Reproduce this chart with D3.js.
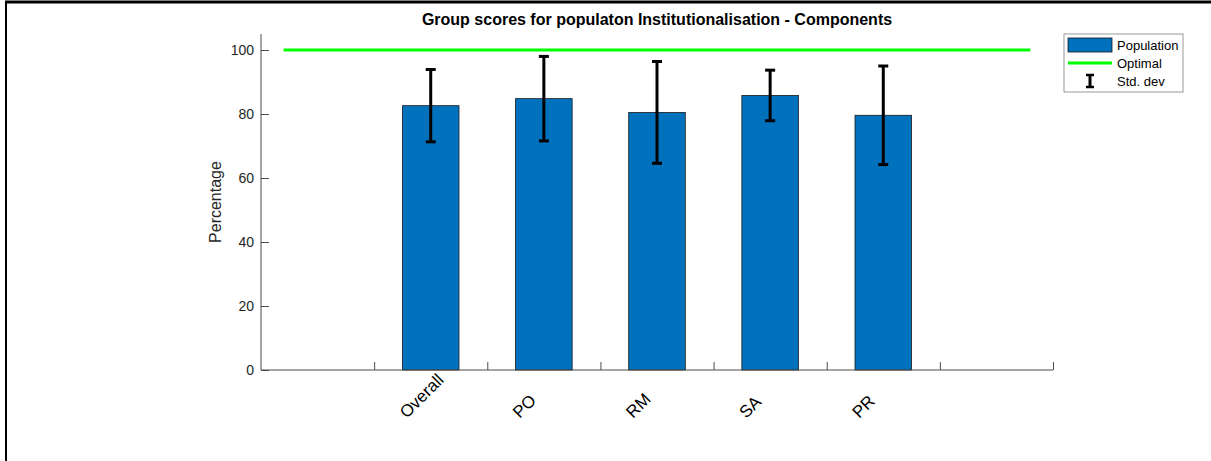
<!DOCTYPE html>
<html>
<head>
<meta charset="utf-8">
<script src="https://cdn.jsdelivr.net/npm/d3@7"></script>
<style>
  body { margin: 0; background: #fff; }
  svg { display: block; font-family: "Liberation Sans", Arial, sans-serif; }
</style>
</head>
<body>
<svg id="chart"></svg>
<script>
// values
const categories = ["Overall", "PO", "RM", "SA", "PR"];
const means = [82.6, 84.8, 80.5, 85.8, 79.6];
const stdDevs = [11.3, 13.2, 15.9, 7.9, 15.4];
const optimal = 100;
const yTicks = [0, 20, 40, 60, 80, 100];
const xTicks = [1, 2, 3, 4, 5, 6, 7];

const w = 1211;
const h = 461;
const axLeft = 261, axRight = 1053, axTop = 34, axBottom = 370;

const svg = d3.select("#chart").attr("width", w).attr("height", h);

// figure frame (top and left edges only visible)
svg.append("line").attr("x1", 5).attr("x2", w).attr("y1", 2).attr("y2", 2)
  .attr("stroke", "#000").attr("stroke-width", 3);
svg.append("line").attr("x1", 6).attr("x2", 6).attr("y1", 1).attr("y2", h)
  .attr("stroke", "#000").attr("stroke-width", 2);

const xScale = d3.scaleLinear().domain([0, 7]).range([axLeft, axRight]);
const yScale = d3.scaleLinear().domain([0, 105]).range([axBottom, axTop]);

// bars
svg.selectAll(".bar")
  .data(means)
  .join("rect")
  .attr("class", "bar")
  .attr("x", (d, i) => xScale(i + 1.25))
  .attr("width", xScale(0.5) - xScale(0))
  .attr("y", d => yScale(d))
  .attr("height", d => yScale(0) - yScale(d))
  .attr("fill", "#0072bd")
  .attr("stroke", "#1a1a1a")
  .attr("stroke-width", 0.8);

// optimal line
svg.append("line")
  .attr("x1", xScale(0.2)).attr("x2", xScale(6.8))
  .attr("y1", yScale(optimal)).attr("y2", yScale(optimal))
  .attr("stroke", "#00ff00").attr("stroke-width", 3);

// error bars
const err = svg.selectAll(".err").data(means).join("g").attr("class", "err");
err.append("line")
  .attr("x1", (d, i) => xScale(i + 1.5)).attr("x2", (d, i) => xScale(i + 1.5))
  .attr("y1", (d, i) => yScale(d + stdDevs[i])).attr("y2", (d, i) => yScale(d - stdDevs[i]))
  .attr("stroke", "#000").attr("stroke-width", 3);
[1, -1].forEach(s => {
  err.append("line")
    .attr("x1", (d, i) => xScale(i + 1.5) - 5).attr("x2", (d, i) => xScale(i + 1.5) + 5)
    .attr("y1", (d, i) => yScale(d + s * stdDevs[i])).attr("y2", (d, i) => yScale(d + s * stdDevs[i]))
    .attr("stroke", "#000").attr("stroke-width", 3);
});

// axes
const yAxis = d3.axisLeft(yScale).tickValues(yTicks).tickSize(-8).tickPadding(7);
const gy = svg.append("g").attr("transform", "translate(" + axLeft + ",0)").call(yAxis);
gy.select(".domain").attr("d", "M0," + axTop + "V" + axBottom).attr("stroke", "#4d4d4d");
gy.selectAll(".tick line").attr("stroke", "#4d4d4d");
gy.selectAll(".tick text").attr("font-size", 14).attr("fill", "#262626").attr("x", -7);

const xAxis = d3.axisBottom(xScale).tickValues(xTicks).tickSize(-8).tickFormat("");
const gx = svg.append("g").attr("transform", "translate(0," + axBottom + ")").call(xAxis);
gx.select(".domain").attr("d", "M" + axLeft + ",0H" + axRight).attr("stroke", "#4d4d4d");
gx.selectAll(".tick line").attr("stroke", "#4d4d4d");

// category labels (start-anchored, rising to the right)
svg.selectAll(".xlab")
  .data(categories)
  .join("text")
  .attr("class", "xlab")
  .attr("transform", (d, i) => "translate(" + (xScale(i + 1.5) - 24) + "," + (axBottom + 49) + ") rotate(-45)")
  .attr("text-anchor", "start")
  .attr("font-size", 17)
  .attr("fill", "#000")
  .text(d => d);

// y label
svg.append("text")
  .attr("transform", "translate(221," + ((axTop + axBottom) / 2) + ") rotate(-90)")
  .attr("text-anchor", "middle")
  .attr("font-size", 16)
  .attr("fill", "#262626")
  .text("Percentage");

// title
svg.append("text")
  .attr("x", (axLeft + axRight) / 2).attr("y", 25)
  .attr("text-anchor", "middle")
  .attr("font-size", 16).attr("font-weight", "bold")
  .attr("fill", "#000")
  .text("Group scores for populaton Institutionalisation - Components");

// legend
const lg = svg.append("g").attr("transform", "translate(1064,34)");
lg.append("rect").attr("width", 119).attr("height", 58)
  .attr("fill", "#fff").attr("stroke", "#7f7f7f").attr("stroke-width", 0.8);
lg.append("rect").attr("x", 4).attr("y", 4).attr("width", 44).attr("height", 14)
  .attr("fill", "#0072bd").attr("stroke", "#1a1a1a").attr("stroke-width", 0.8);
lg.append("line").attr("x1", 4).attr("x2", 48).attr("y1", 29).attr("y2", 29)
  .attr("stroke", "#00ff00").attr("stroke-width", 3);
lg.append("line").attr("x1", 26).attr("x2", 26).attr("y1", 41).attr("y2", 53)
  .attr("stroke", "#000").attr("stroke-width", 3);
[41, 53].forEach(y => lg.append("line").attr("x1", 22).attr("x2", 30).attr("y1", y).attr("y2", y)
  .attr("stroke", "#000").attr("stroke-width", 2.5));
["Population", "Optimal", "Std. dev"].forEach((t, i) => {
  lg.append("text").attr("x", 53).attr("y", 16 + i * 18)
    .attr("font-size", 13).attr("fill", "#000").text(t);
});
</script>
</body>
</html>
